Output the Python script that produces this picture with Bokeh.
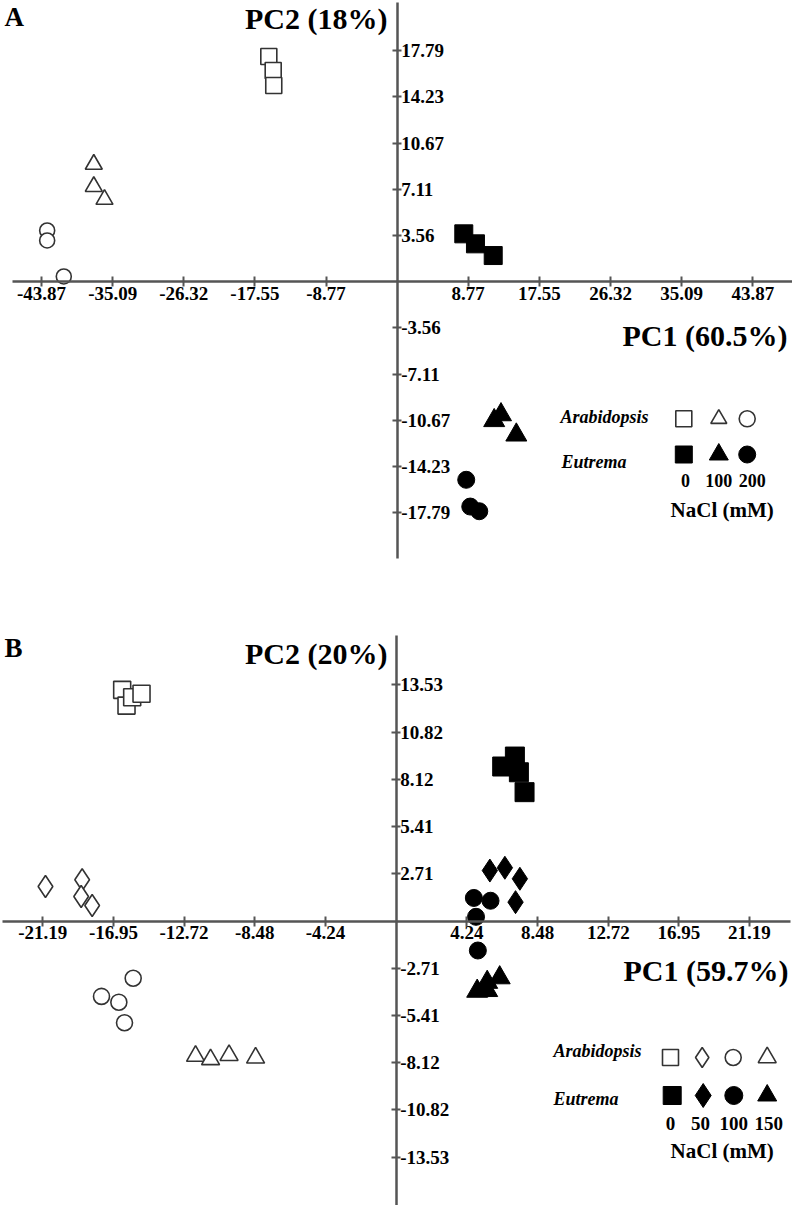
from bokeh.plotting import figure
from bokeh.models import (LinearAxis, FixedTicker, PrintfTickFormatter, Range1d, Label)
from bokeh.layouts import column
from bokeh.embed import file_html
from bokeh.resources import INLINE

# ---------------- DATA ----------------
# Panel A : PC1 (60.5%) / PC2 (18%), NaCl 0, 100, 200 mM
a_arab_0_pc1 = [-15.83, -15.29, -15.22]
a_arab_0_pc2 = [17.33, 16.25, 15.10]
a_arab_100_pc1 = [-37.42, -37.42, -36.10]
a_arab_100_pc2 = [9.03, 7.32, 6.33]
a_arab_200_pc1 = [-43.17, -43.17, -41.12]
a_arab_200_pc2 = [3.94, 3.17, 0.40]
a_eut_0_pc1 = [8.22, 9.66, 11.85]
a_eut_0_pc2 = [3.68, 2.91, 2.01]
a_eut_100_pc1 = [11.97, 12.81, 14.70]
a_eut_100_pc2 = [-10.69, -10.24, -11.80]
a_eut_200_pc1 = [8.52, 9.02, 10.13]
a_eut_200_pc2 = [-15.25, -17.31, -17.67]

# Panel B : PC1 (59.7%) / PC2 (20%), NaCl 0, 50, 100, 150 mM
b_arab_0_pc1 = [-16.43, -16.17, -15.83, -15.27]
b_arab_0_pc2 = [13.24, 12.34, 12.82, 13.02]
b_arab_50_pc1 = [-21.03, -18.83, -18.89, -18.23]
b_arab_50_pc2 = [1.98, 2.36, 1.40, 0.89]
b_arab_100_pc1 = [-15.77, -17.67, -16.63, -16.29]
b_arab_100_pc2 = [-3.28, -4.32, -4.65, -5.83]
b_arab_150_pc1 = [-12.03, -11.13, -10.02, -8.43]
b_arab_150_pc2 = [-7.74, -7.93, -7.69, -7.84]
b_eut_0_pc1 = [6.36, 7.12, 7.36, 7.70]
b_eut_0_pc2 = [8.85, 9.42, 8.52, 7.38]
b_eut_50_pc1 = [5.62, 6.52, 7.42, 7.16]
b_eut_50_pc2 = [2.89, 3.05, 2.42, 1.08]
b_eut_100_pc1 = [4.66, 5.66, 4.79, 4.90]
b_eut_100_pc2 = [1.32, 1.16, 0.24, -1.69]
b_eut_150_pc1 = [5.46, 6.21, 4.86, 5.46]
b_eut_150_pc2 = [-3.51, -3.25, -4.02, -3.98]

# Tick values
a_pc1_ticks = [-43.87, -35.09, -26.32, -17.55, -8.77, 8.77, 17.55, 26.32, 35.09, 43.87]
a_pc2_ticks = [-17.79, -14.23, -10.67, -7.11, -3.56, 3.56, 7.11, 10.67, 14.23, 17.79]
b_pc1_ticks = [-21.19, -16.95, -12.72, -8.48, -4.24, 4.24, 8.48, 12.72, 16.95, 21.19]
b_pc2_ticks = [-13.53, -10.82, -8.12, -5.41, -2.71, 2.71, 5.41, 8.12, 10.82, 13.53]

# Labels
a_nacl_levels = ["0", "100", "200"]
b_nacl_levels = ["0", "50", "100", "150"]

# ---------------- STYLE ----------------
FONT = "Liberation Serif"
AX_COL = "#555555"
OPEN = dict(fill_color="white", line_color="#333333", line_width=1.6)
FILLED = dict(fill_color="black", line_color="black", line_width=1)
PAGE_W = 792


def make_panel(width, height, top, px_per_x, x0, px_per_y, y0):
    """Create a figure whose page-pixel mapping matches the reference."""
    def fx(px):
        return (px - x0) / px_per_x

    def fy(py):
        return (y0 - py) / px_per_y

    p = figure(width=width, height=height, output_backend="svg", toolbar_location=None,
               x_axis_location=None, y_axis_location=None, min_border=0,
               x_range=Range1d(fx(0), fx(width)), y_range=Range1d(fy(top + height), fy(top)))
    p.outline_line_color = None
    p.grid.visible = False
    return p, fx, fy


def style_axis(ax):
    ax.axis_line_color = AX_COL
    ax.axis_line_width = 2.5
    ax.major_tick_line_color = AX_COL
    ax.major_tick_line_width = 2
    ax.major_tick_in = 5
    ax.major_tick_out = 5
    ax.minor_tick_line_color = None
    ax.major_label_text_font = FONT
    ax.major_label_text_font_style = "bold"
    ax.major_label_text_font_size = "19px"
    ax.major_label_text_color = "black"
    ax.major_label_standoff = 0


def add_axes(p, xt, yt, xb, yb):
    xa = LinearAxis(fixed_location=0, ticker=FixedTicker(ticks=xt),
                    formatter=PrintfTickFormatter(format="%.2f"), bounds=xb)
    style_axis(xa)
    p.add_layout(xa, "below")
    ya = LinearAxis(fixed_location=0, ticker=FixedTicker(ticks=yt),
                    formatter=PrintfTickFormatter(format="%.2f"), bounds=yb)
    style_axis(ya)
    ya.major_tick_out = 4
    p.add_layout(ya, "right")


def txt(p, x, y, s, size, style="bold", align="left"):
    p.add_layout(Label(x=x, y=y, text=s, text_font=FONT, text_font_style=style,
                       text_font_size=size, text_align=align, text_baseline="middle",
                       text_color="black"))


# ---------------- PANEL A ----------------
pa, fxa, fya = make_panel(PAGE_W, 598, 0, 8.107, 396.65, 12.993, 281.15)
add_axes(pa, a_pc1_ticks, a_pc2_ticks, (fxa(12), fxa(793)), (fya(558), fya(2)))

pa.scatter(a_arab_0_pc1, a_arab_0_pc2, marker="square", size=16, **OPEN)
pa.scatter(a_arab_100_pc1, a_arab_100_pc2, marker="triangle", size=17, **OPEN)
pa.scatter(a_arab_200_pc1, a_arab_200_pc2, marker="circle", size=15, **OPEN)
pa.scatter(a_eut_0_pc1, a_eut_0_pc2, marker="square", size=18, **FILLED)
pa.scatter(a_eut_100_pc1, a_eut_100_pc2, marker="triangle", size=21, **FILLED)
pa.scatter(a_eut_200_pc1, a_eut_200_pc2, marker="circle", size=17, **FILLED)

txt(pa, fxa(4), fya(16), "A", "27px")
txt(pa, fxa(387), fya(18), "PC2 (18%)", "30px", align="right")
txt(pa, fxa(787), fya(335), "PC1 (60.5%)", "30px", align="right")

# legend A
leg_a_x = [683.3, 718.3, 746.7]
leg_a_markers = ["square", "triangle", "circle"]
for mx, mk in zip(leg_a_x, leg_a_markers):
    pa.scatter([fxa(mx)], [fya(418.3)], marker=mk, size=16, **OPEN)
    pa.scatter([fxa(mx)], [fya(454)], marker=mk, size=17 if mk != "triangle" else 19, **FILLED)
txt(pa, fxa(560), fya(416), "Arabidopsis", "18px", style="bold italic")
txt(pa, fxa(561), fya(461), "Eutrema", "18px", style="bold italic")
for mx, lab in zip([685, 718.3, 751.7], a_nacl_levels):
    txt(pa, fxa(mx), fya(480), lab, "18px", align="center")
txt(pa, fxa(721.7), fya(509), "NaCl (mM)", "21px", align="center")

# ---------------- PANEL B ----------------
pb, fxb, fyb = make_panel(PAGE_W, 607, 598, 16.675, 395.65, 17.457, 920.5)
add_axes(pb, b_pc1_ticks, b_pc2_ticks, (fxb(2), fxb(790)), (fyb(1205), fyb(635)))

pb.scatter(b_arab_0_pc1, b_arab_0_pc2, marker="square", size=17, **OPEN)
pb.scatter(b_arab_50_pc1, b_arab_50_pc2, marker="diamond", size=22, **OPEN)
pb.scatter(b_arab_100_pc1, b_arab_100_pc2, marker="circle", size=16, **OPEN)
pb.scatter(b_arab_150_pc1, b_arab_150_pc2, marker="triangle", size=18, **OPEN)
pb.scatter(b_eut_0_pc1, b_eut_0_pc2, marker="square", size=19, **FILLED)
pb.scatter(b_eut_50_pc1, b_eut_50_pc2, marker="diamond", size=23, **FILLED)
pb.scatter(b_eut_100_pc1, b_eut_100_pc2, marker="circle", size=17, **FILLED)
pb.scatter(b_eut_150_pc1, b_eut_150_pc2, marker="triangle", size=21, **FILLED)

txt(pb, fxb(4), fyb(647), "B", "27px")
txt(pb, fxb(387), fyb(653), "PC2 (20%)", "30px", align="right")
txt(pb, fxb(788), fyb(970), "PC1 (59.7%)", "30px", align="right")

# legend B
leg_b_open_x = [670, 701.7, 732.7, 766.7]
leg_b_fill_x = [671.7, 702.7, 733.3, 766.7]
leg_b_markers = ["square", "diamond", "circle", "triangle"]
leg_b_open_sz = [16, 20, 16, 18]
leg_b_fill_sz = [18, 24, 18, 19]
for mx, mk, sz in zip(leg_b_open_x, leg_b_markers, leg_b_open_sz):
    pb.scatter([fxb(mx)], [fyb(1057)], marker=mk, size=sz, **OPEN)
for mx, mk, sz in zip(leg_b_fill_x, leg_b_markers, leg_b_fill_sz):
    pb.scatter([fxb(mx)], [fyb(1095)], marker=mk, size=sz, **FILLED)
txt(pb, fxb(553), fyb(1050), "Arabidopsis", "18px", style="bold italic")
txt(pb, fxb(553), fyb(1098), "Eutrema", "18px", style="bold italic")
for mx, lab in zip([670, 700, 733.3, 768.3], b_nacl_levels):
    txt(pb, fxb(mx), fyb(1123), lab, "19px", align="center")
txt(pb, fxb(721.7), fyb(1150), "NaCl (mM)", "21px", align="center")

layout = column(pa, pb, spacing=0)
open("out.html", "w").write(file_html(layout, INLINE))
